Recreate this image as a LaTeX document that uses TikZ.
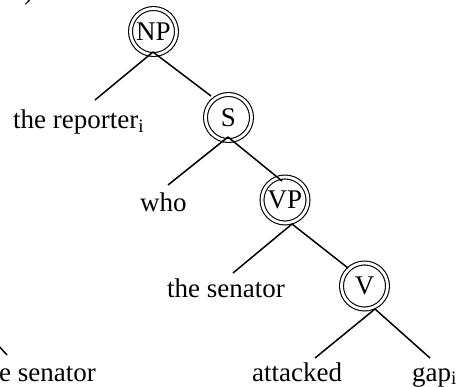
\documentclass[tikz,border=0pt]{standalone}
\usepackage{fontspec}
\setmainfont{Liberation Serif}
\begin{document}
\begin{tikzpicture}[x=1pt,y=1pt,
  dcirc/.style={circle,minimum size=46pt,inner sep=0pt,draw=black,line width=1.1pt,
     double=white,double distance=2.8pt,fill=white,font=\fontsize{27}{31}\selectfont},
  word/.style={anchor=base west,inner sep=0pt,font=\fontsize{27}{31}\selectfont},
  edge/.style={line width=1.5pt,black}]
\useasboundingbox (0,0) rectangle (460,386);
\clip (0,0) rectangle (460,386);
% circles (image y flipped: Y = 386 - y)
\node[dcirc] (np) at (153.5,354.5) {NP};
\node[dcirc] (s)  at (228.5,268.5) {S};
\node[dcirc] (vp) at (285,186) {VP};
\node[dcirc] (v)  at (364.5,100) {V};
% words
\node[word] (rep) at (13,257) {the reporter\textsubscript{i}};
\node[word] (who) at (140,174.5) {who};
\node[word] (sen) at (167,89) {the senator};
\node[word] (att) at (252,5) {attacked};
\node[word] (gap) at (412,5) {gap\textsubscript{i}};
\node[word] (esen) at (-1,5) {e senator};
\node[word] (paren) at (24,386.5) {)};
% connector points
\coordinate (npb) at (153,334);
\coordinate (sb)  at (228,249);
\coordinate (vpb) at (292,162);
\coordinate (vb)  at (375,77);
\coordinate (repT) at (95,286);
\coordinate (sT)   at (211,290);
\coordinate (whoT) at (168,201);
\coordinate (vpT)  at (282,205);
\coordinate (senT) at (233,113);
\coordinate (vT)   at (348,118);
\coordinate (attT) at (315,28);
\coordinate (gapT) at (430,28);
\coordinate (fragA) at (-3,42);
\coordinate (fragB) at (7,31);
% connectors
\draw[edge] (npb) -- (repT);
\draw[edge] (npb) -- (sT);
\draw[edge] (sb) -- (whoT);
\draw[edge] (sb) -- (vpT);
\draw[edge] (vpb) -- (senT);
\draw[edge] (vpb) -- (vT);
\draw[edge] (vb) -- (attT);
\draw[edge] (vb) -- (gapT);
\draw[edge] (fragA) -- (fragB);
\end{tikzpicture}
\end{document}
